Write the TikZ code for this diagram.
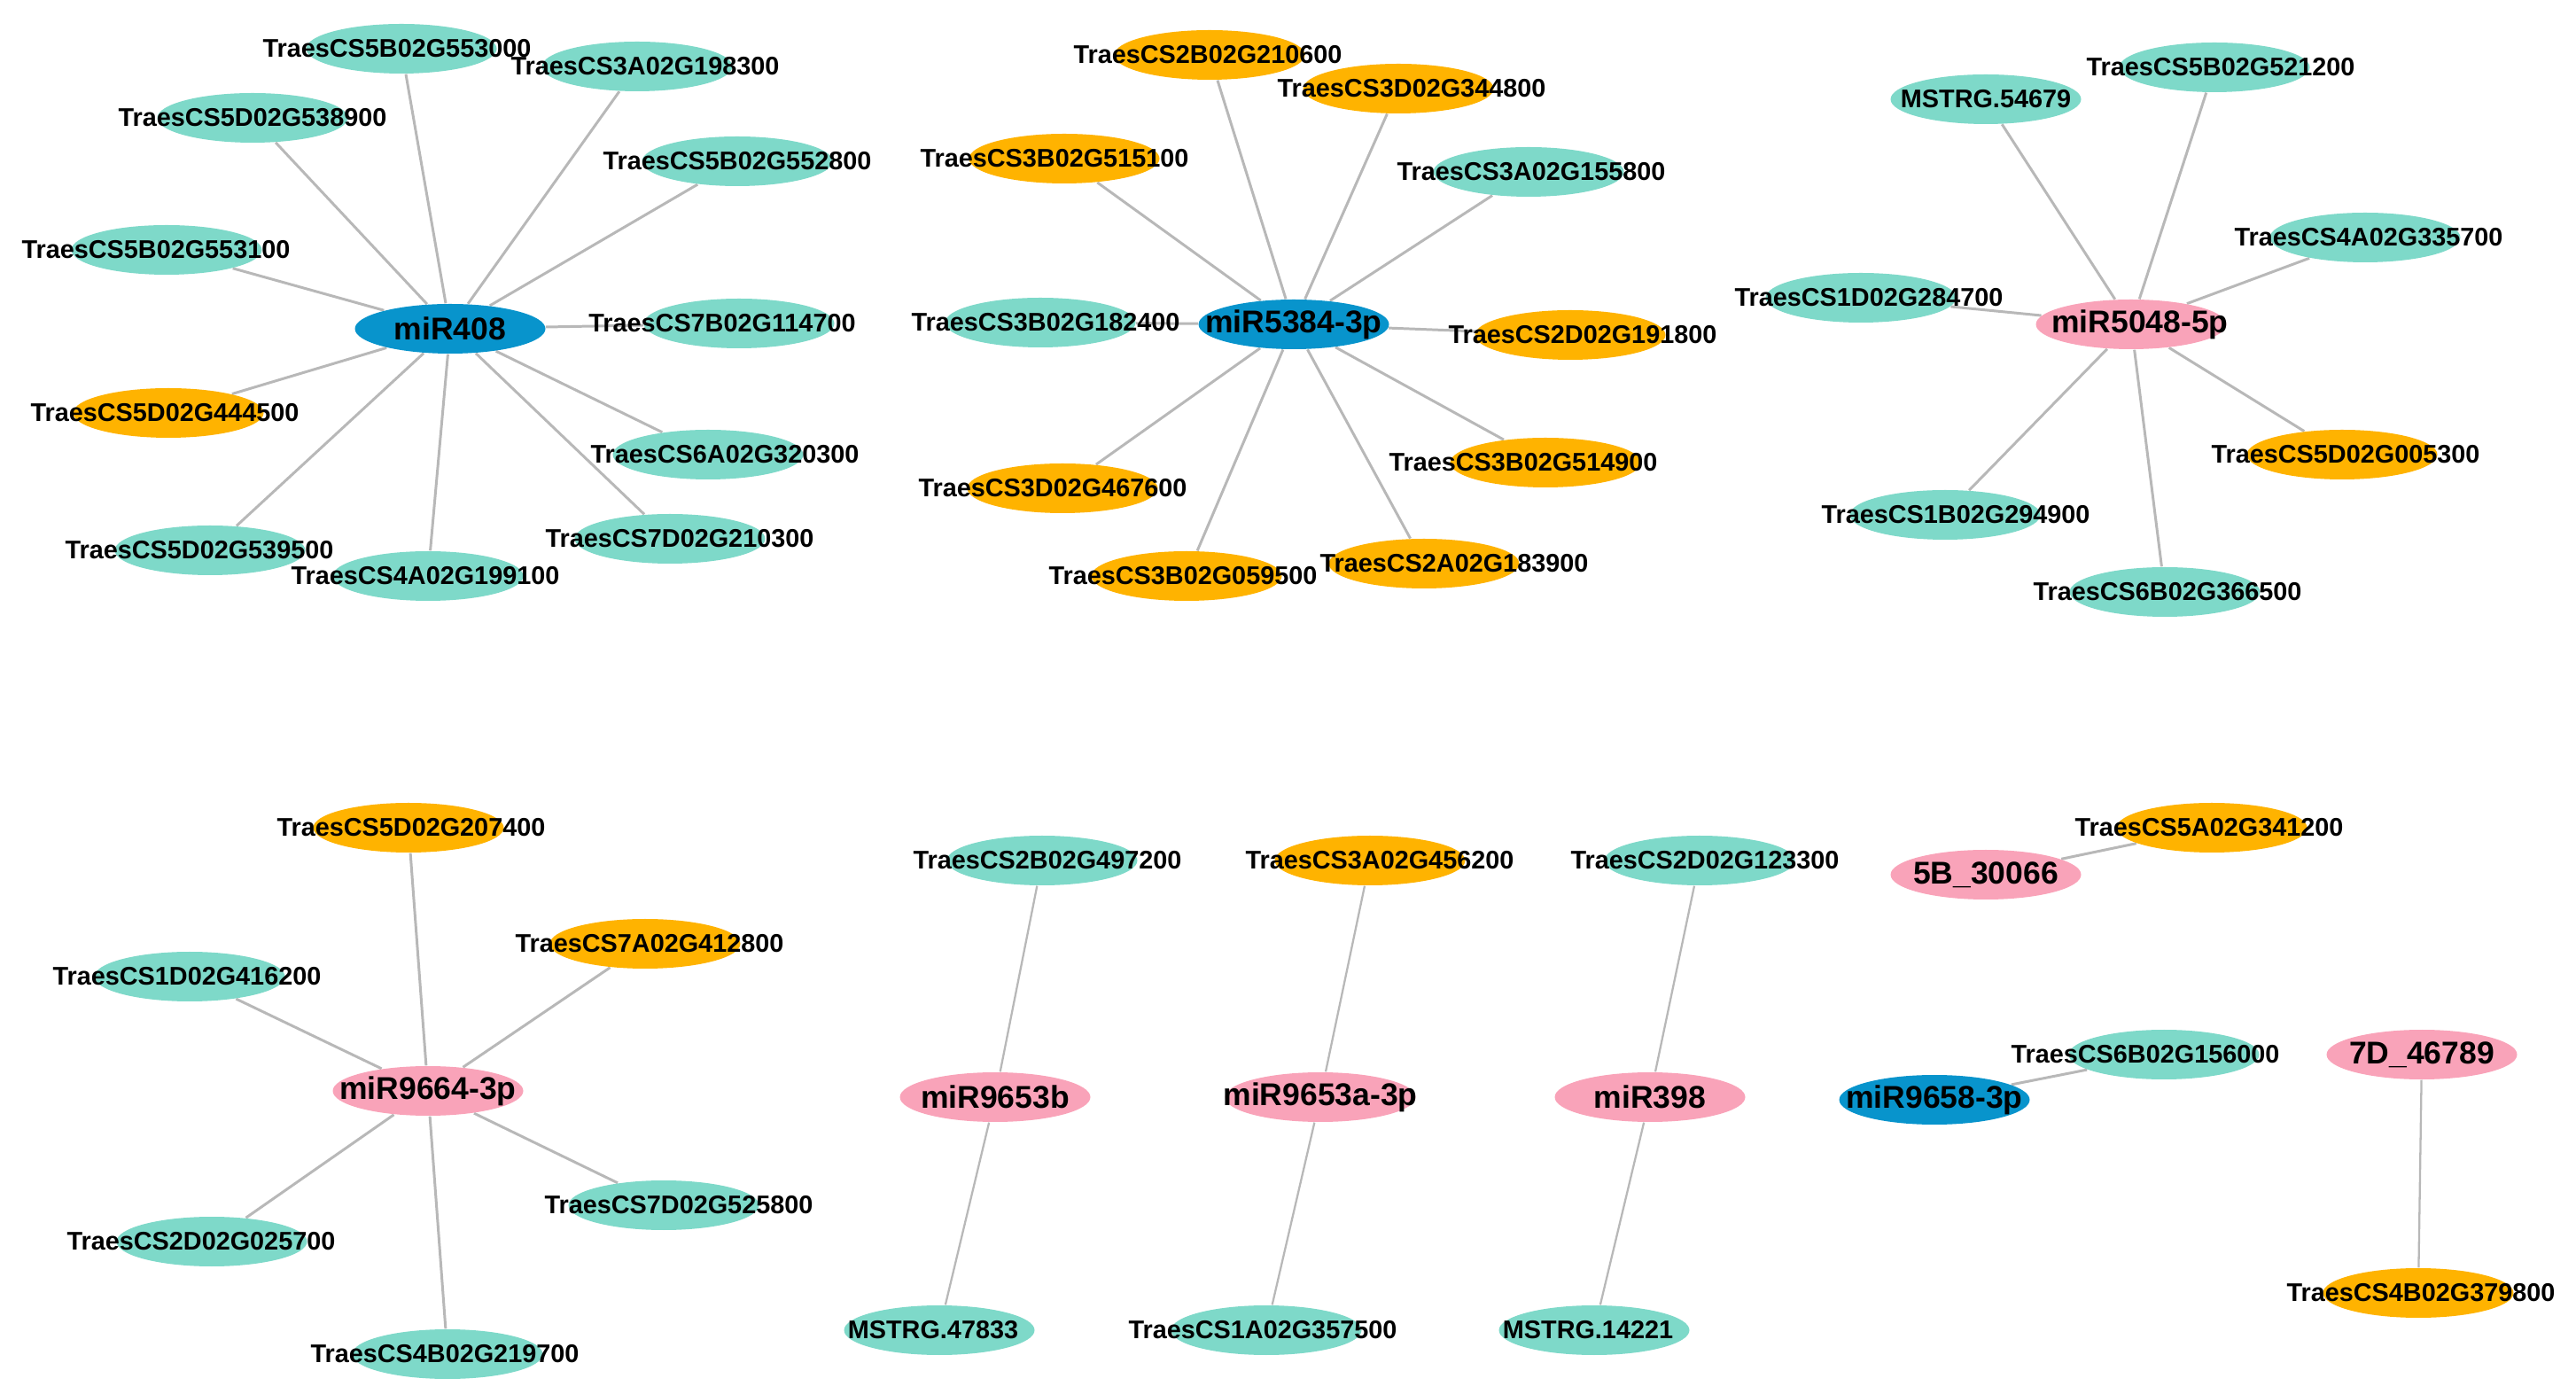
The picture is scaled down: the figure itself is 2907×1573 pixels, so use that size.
\documentclass[tikz,border=0pt]{standalone}
\usepackage{fontspec}
\setmainfont{Liberation Sans}
\usetikzlibrary{shapes.geometric,backgrounds}
\definecolor{mirblue}{RGB}{8,148,204}
\definecolor{mirpink}{RGB}{249,163,185}
\definecolor{geneteal}{RGB}{126,217,201}
\definecolor{geneorange}{RGB}{255,179,0}
\definecolor{edgegray}{RGB}{184,184,184}
\tikzset{
  blob/.style={ellipse, draw=none, inner sep=0pt, minimum width=21.5mm, minimum height=5.6mm},
  gtext/.style={font=\bfseries\fontsize{8.2}{9}\selectfont, inner sep=0pt},
  mtext/.style={font=\bfseries\fontsize{10.1}{12}\selectfont, inner sep=0pt},
  tgene/.style 2 args={blob, fill=geneteal, label={[gtext, xshift=#2*0.1mm]center:#1}},
  ogene/.style 2 args={blob, fill=geneorange, label={[gtext, xshift=#2*0.1mm]center:#1}},
  bmir/.style={blob, fill=mirblue, label={[mtext]center:#1}},
  pmir/.style 2 args={blob, fill=mirpink, label={[mtext, xshift=#2*0.1mm]center:#1}},
  edge/.style={draw=edgegray, line width=0.85pt},
  thinedge/.style={draw=edgegray, line width=0.65pt}
}
\begin{document}
\begin{tikzpicture}[x=0.1mm, y=-0.1mm]
	\useasboundingbox (0,0) rectangle (2907,1573);
	% miR408
	\node[bmir=miR408] (m408) at (508,371) {};
	\node[tgene={TraesCS5B02G553000}{-5}] (g5B553000) at (453,55) {};
	\node[tgene={TraesCS3A02G198300}{9}] (g3A198300) at (719,75) {};
	\node[tgene={TraesCS5D02G538900}{0}] (g5D538900) at (285,133) {};
	\node[tgene={TraesCS5B02G552800}{0}] (g5B552800) at (832,182) {};
	\node[tgene={TraesCS5B02G553100}{-12}] (g5B553100) at (188,282) {};
	\node[tgene={TraesCS7B02G114700}{-19}] (g7B114700) at (834,365) {};
	\node[ogene={TraesCS5D02G444500}{-4}] (g5D444500) at (190,466) {};
	\node[tgene={TraesCS6A02G320300}{19}] (g6A320300) at (799,513) {};
	\node[tgene={TraesCS5D02G539500}{-12}] (g5D539500) at (237,621) {};
	\node[tgene={TraesCS4A02G199100}{-3}] (g4A199100) at (483,650) {};
	\node[tgene={TraesCS7D02G210300}{11}] (g7D210300) at (756,608) {};
	% miR5384-3p
	\node[bmir=miR5384-3p] (m5384) at (1460,366) {};
	\node[ogene={TraesCS2B02G210600}{-2}] (g2B210600) at (1365,62) {};
	\node[ogene={TraesCS3D02G344800}{15}] (g3D344800) at (1578,100) {};
	\node[ogene={TraesCS3B02G515100}{-11}] (g3B515100) at (1201,179) {};
	\node[tgene={TraesCS3A02G155800}{3}] (g3A155800) at (1725,194) {};
	\node[tgene={TraesCS3B02G182400}{6}] (g3B182400) at (1174,364) {};
	\node[ogene={TraesCS2D02G191800}{14}] (g2D191800) at (1772,378) {};
	\node[ogene={TraesCS3D02G467600}{-11}] (g3D467600) at (1199,551) {};
	\node[ogene={TraesCS3B02G514900}{-25}] (g3B514900) at (1744,522) {};
	\node[ogene={TraesCS3B02G059500}{-4}] (g3B059500) at (1339,650) {};
	\node[ogene={TraesCS2A02G183900}{34}] (g2A183900) at (1607,636) {};
	% miR5048-5p
	\node[pmir={miR5048-5p}{10}] (m5048) at (2405,366) {};
	\node[tgene={TraesCS5B02G521200}{7}] (g5B521200) at (2499,76) {};
	\node[tgene={MSTRG.54679}{0}] (ms54679) at (2241,112) {};
	\node[tgene={TraesCS4A02G335700}{4}] (g4A335700) at (2669,268) {};
	\node[tgene={TraesCS1D02G284700}{9}] (g1D284700) at (2100,336) {};
	\node[ogene={TraesCS5D02G005300}{4}] (g5D005300) at (2643,513) {};
	\node[tgene={TraesCS1B02G294900}{12}] (g1B294900) at (2195,581) {};
	\node[tgene={TraesCS6B02G366500}{3}] (g6B366500) at (2443,668) {};
	% miR9664-3p
	\node[pmir={miR9664-3p}{0}] (m9664) at (483,1231) {};
	\node[ogene={TraesCS5D02G207400}{3}] (g5D207400) at (461,934) {};
	\node[ogene={TraesCS7A02G412800}{5}] (g7A412800) at (728,1065) {};
	\node[tgene={TraesCS1D02G416200}{-3}] (g1D416200) at (214,1102) {};
	\node[tgene={TraesCS7D02G525800}{17}] (g7D525800) at (749,1360) {};
	\node[tgene={TraesCS2D02G025700}{-12}] (g2D025700) at (239,1401) {};
	\node[tgene={TraesCS4B02G219700}{-3}] (g4B219700) at (505,1528) {};
	% small pairs
	\node[pmir={miR9653b}{0}] (m9653b) at (1123,1238) {};
	\node[tgene={TraesCS2B02G497200}{6}] (g2B497200) at (1176,971) {};
	\node[tgene={MSTRG.47833}{-7}] (ms47833) at (1060,1501) {};
	\node[pmir={miR9653a-3p}{0}] (m9653a) at (1490,1238) {};
	\node[ogene={TraesCS3A02G456200}{11}] (g3A456200) at (1546,971) {};
	\node[tgene={TraesCS1A02G357500}{-4}] (g1A357500) at (1429,1501) {};
	\node[pmir={miR398}{0}] (m398) at (1862,1238) {};
	\node[tgene={TraesCS2D02G123300}{6}] (g2D123300) at (1918,971) {};
	\node[tgene={MSTRG.14221}{-7}] (ms14221) at (1799,1501) {};
	\node[pmir={5B\_30066}{0}] (s5B) at (2241,987) {};
	\node[ogene={TraesCS5A02G341200}{-3}] (g5A341200) at (2496,934) {};
	\node[bmir=miR9658-3p] (m9658) at (2183,1241) {};
	\node[tgene={TraesCS6B02G156000}{-21}] (g6B156000) at (2442,1190) {};
	\node[pmir={7D\_46789}{0}] (s7D) at (2733,1190) {};
	\node[ogene={TraesCS4B02G379800}{3}] (g4B379800) at (2729,1459) {};
	% connectors
	\begin{scope}[on background layer]
	\draw[edge] (m408) -- (g5B553000) (m408) -- (g3A198300) (m408) -- (g5D538900)
		(m408) -- (g5B552800) (m408) -- (g5B553100) (m408) -- (g7B114700)
		(m408) -- (g5D444500) (m408) -- (g6A320300) (m408) -- (g5D539500)
		(m408) -- (g4A199100) (m408) -- (g7D210300);
	\draw[edge] (m5384) -- (g2B210600) (m5384) -- (g3D344800) (m5384) -- (g3B515100)
		(m5384) -- (g3A155800) (m5384) -- (g3B182400) (m5384) -- (g2D191800)
		(m5384) -- (g3D467600) (m5384) -- (g3B514900) (m5384) -- (g3B059500)
		(m5384) -- (g2A183900);
	\draw[edge] (m5048) -- (g5B521200) (m5048) -- (ms54679) (m5048) -- (g4A335700)
		(m5048) -- (g1D284700) (m5048) -- (g5D005300) (m5048) -- (g1B294900)
		(m5048) -- (g6B366500);
	\draw[edge] (m9664) -- (g5D207400) (m9664) -- (g7A412800) (m9664) -- (g1D416200)
		(m9664) -- (g7D525800) (m9664) -- (g2D025700) (m9664) -- (g4B219700);
	\draw[thinedge] (m9653b) -- (g2B497200) (m9653b) -- (ms47833);
	\draw[thinedge] (m9653a) -- (g3A456200) (m9653a) -- (g1A357500);
	\draw[thinedge] (m398) -- (g2D123300) (m398) -- (ms14221);
	\draw[edge] (s5B) -- (g5A341200);
	\draw[edge] (m9658) -- (g6B156000);
	\draw[thinedge] (s7D) -- (g4B379800);
	\end{scope}
\end{tikzpicture}
\end{document}
